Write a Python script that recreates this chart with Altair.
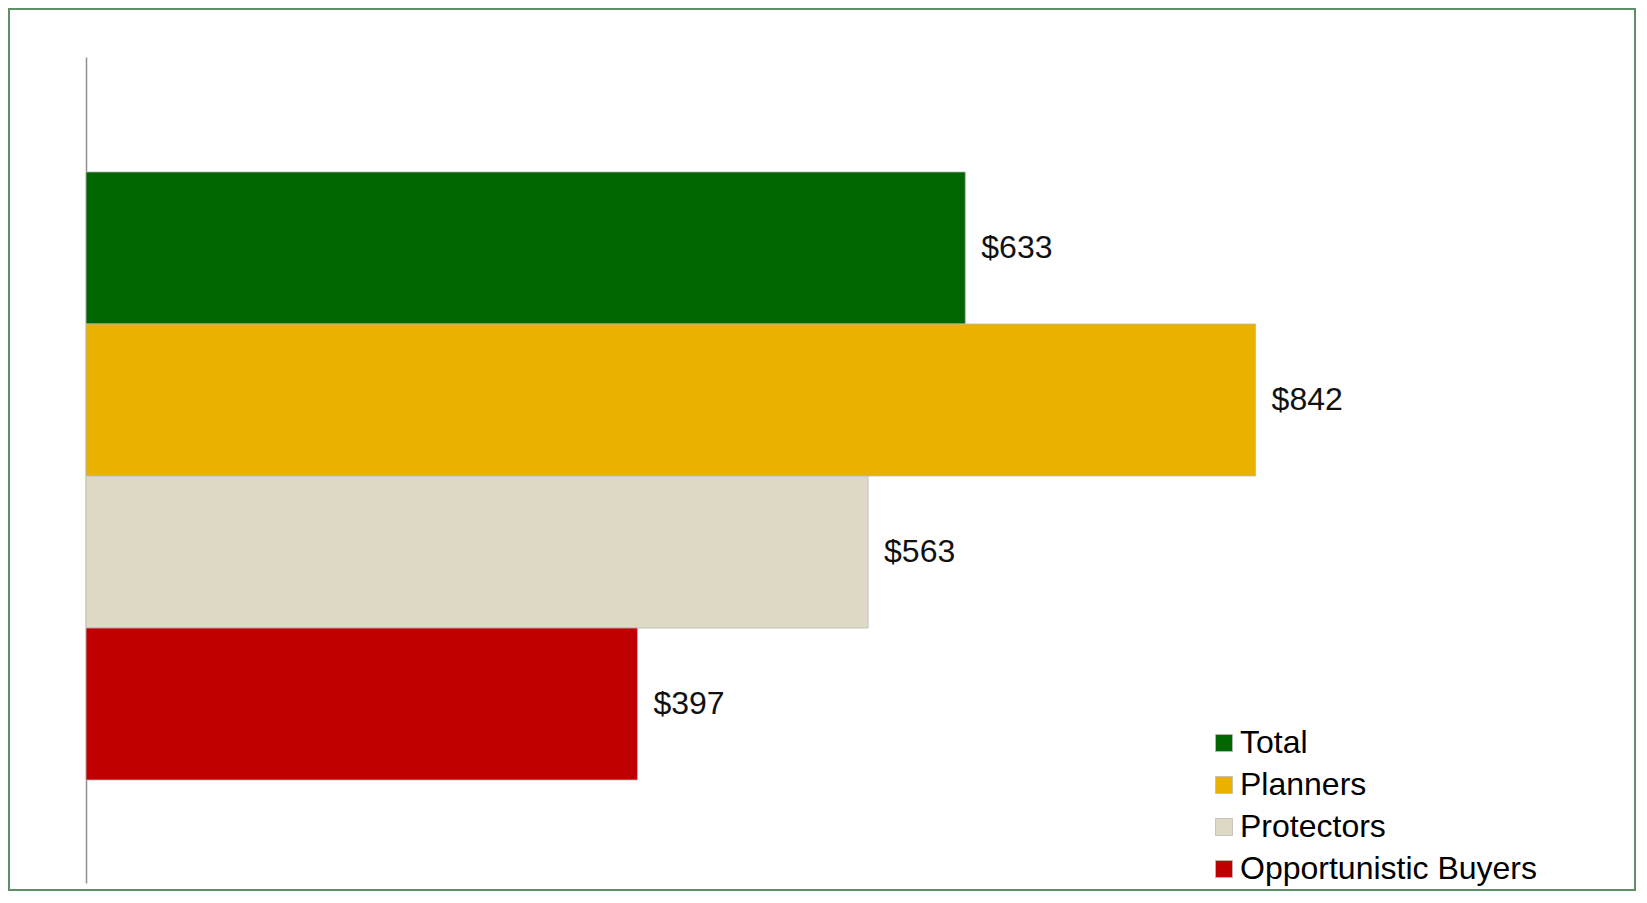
import altair as alt
import pandas as pd

segments = ["Total", "Planners", "Protectors", "Opportunistic Buyers"]
values = [633, 842, 563, 397]
colors = ["#006600", "#E9B200", "#DDD9C4", "#C00000"]

df = pd.DataFrame({"Segment": segments, "Value": values})

W = 1528
H = 826
PL, PT, PR, PB = 78, 49, 22, 8

yscale = alt.Scale(domain=segments, paddingInner=0, paddingOuter=0.717, align=0.5275)
xscale = alt.Scale(domain=[0, 1100], nice=False, zero=True)

base = alt.Chart(df)

bars = base.mark_bar(stroke="#b8b8b8", strokeWidth=0.8).encode(
    y=alt.Y("Segment:N", sort=segments, scale=yscale,
            axis=alt.Axis(labels=False, ticks=False, title=None, domainColor="#8f8f8f",
                          domainWidth=1.5, grid=False)),
    x=alt.X("Value:Q", scale=xscale, axis=None),
    color=alt.Color("Segment:N", scale=alt.Scale(domain=segments, range=colors),
                    sort=segments,
                    legend=alt.Legend(title=None, orient="none", legendX=1122, legendY=670,
                                      symbolType="square", symbolSize=289,
                                      symbolStrokeColor="#bbbbbb", symbolStrokeWidth=0.8,
                                      labelFontSize=32, labelFont="Liberation Sans",
                                      labelColor="#000000", labelOffset=0,
                                      rowPadding=10, labelLimit=500)),
)

labels = base.mark_text(align="left", baseline="middle", dx=16, fontSize=32,
                        font="Liberation Sans", color="#111111").encode(
    y=alt.Y("Segment:N", sort=segments, scale=yscale),
    x=alt.X("Value:Q", scale=xscale),
    text=alt.Text("Value:Q", format="$,.0f"),
)

frame = alt.Chart(alt.Data(values=[{"a": 1}])).mark_rect(
    fill=None, stroke="#5f8f66", strokeWidth=2
).encode(
    x=alt.value(-PL + 1), x2=alt.value(W + PR - 1),
    y=alt.value(-PT + 1), y2=alt.value(H + PB - 1),
)

chart = alt.layer(bars, labels, frame).properties(
    width=W, height=H,
    padding={"left": PL, "top": PT, "right": PR, "bottom": PB},
    autosize=alt.AutoSizeParams(type="none"),
    background="white",
).configure_view(stroke=None)

chart.save("out.html", embed_options={"renderer": "svg", "actions": False})
